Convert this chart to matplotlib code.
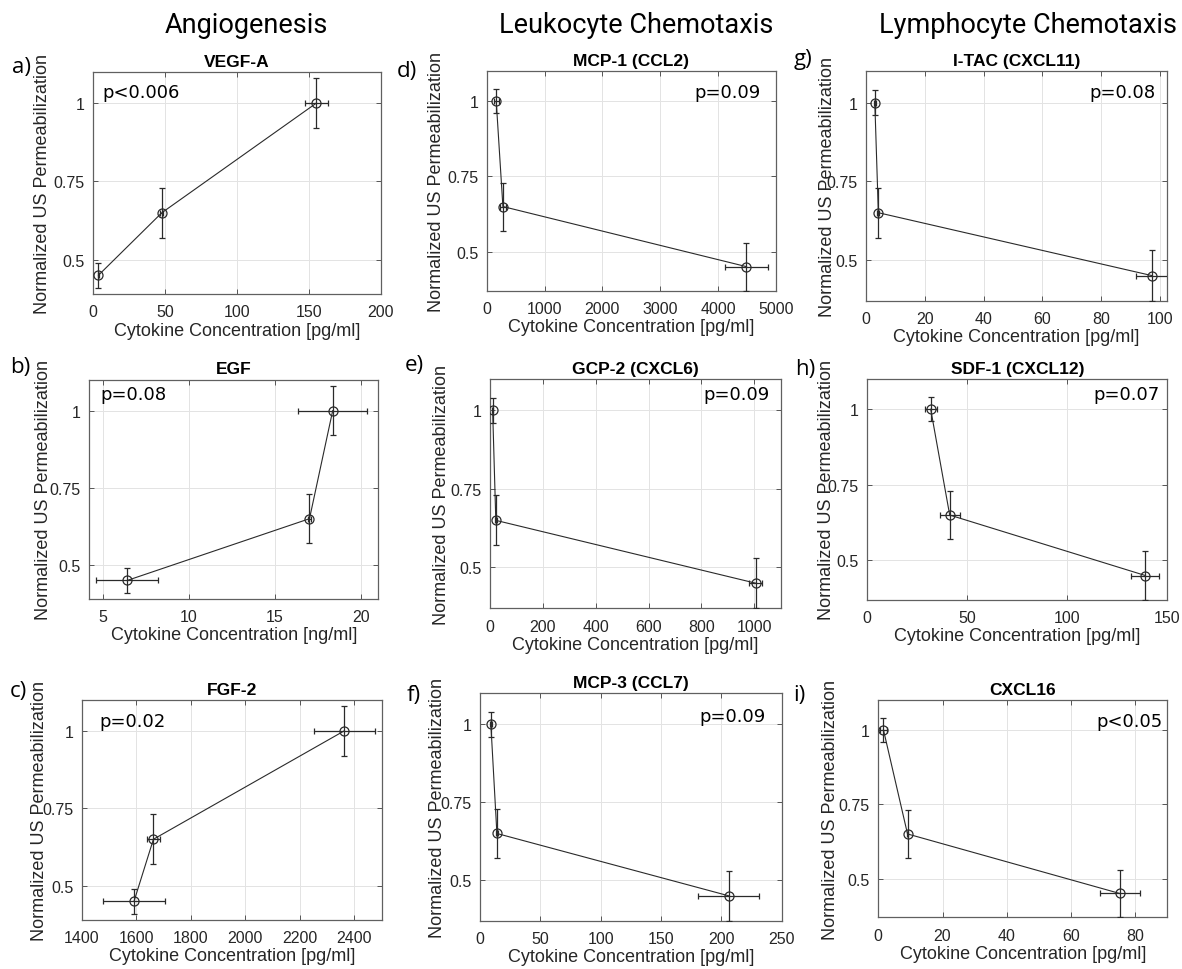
import numpy as np
import matplotlib
matplotlib.use("Agg")
import matplotlib.pyplot as plt

plt.rcParams['font.family'] = ['Liberation Sans', 'DejaVu Sans']

# normalized US permeabilization, ordered by rising concentration
perm_angio = [0.45, 0.65, 1.0]
perm_angio_err = [0.04, 0.08, 0.08]
perm_chemo = [1.0, 0.65, 0.45]
perm_chemo_err = [0.04, 0.08, 0.08]

column_titles = ['Angiogenesis', 'Leukocyte Chemotaxis', 'Lymphocyte Chemotaxis']
panel_letters = ['a)', 'b)', 'c)', 'd)', 'e)', 'f)', 'g)', 'h)', 'i)']
cytokines = ['VEGF-A', 'EGF', 'FGF-2',
             'MCP-1 (CCL2)', 'GCP-2 (CXCL6)', 'MCP-3 (CCL7)',
             'I-TAC (CXCL11)', 'SDF-1 (CXCL12)', 'CXCL16']
p_values = ['p<0.006', 'p=0.08', 'p=0.02',
            'p=0.09', 'p=0.09', 'p=0.09',
            'p=0.08', 'p=0.07', 'p<0.05']
units = ['pg/ml', 'ng/ml', 'pg/ml',
         'pg/ml', 'pg/ml', 'pg/ml',
         'pg/ml', 'pg/ml', 'pg/ml']

# cytokine concentrations and their errors
conc_vegf = [4, 48, 155]
conc_vegf_err = [0.5, 1, 8]
conc_egf = [6.4, 17.0, 18.35]
conc_egf_err = [1.8, 0.1, 2.0]
conc_fgf2 = [1592, 1663, 2362]
conc_fgf2_err = [114, 25, 112]
conc_mcp1 = [165, 280, 4490]
conc_mcp1_err = [40, 50, 375]
conc_gcp2 = [10, 22, 1005]
conc_gcp2_err = [3, 3, 24]
conc_mcp3 = [9, 14, 206]
conc_mcp3_err = [1, 1, 25]
conc_itac = [3.0, 4.2, 97.2]
conc_itac_err = [0.3, 0.3, 5.4]
conc_sdf1 = [31.7, 41.2, 139]
conc_sdf1_err = [3, 5, 7]
conc_cxcl16 = [1.6, 9.1, 75.2]
conc_cxcl16_err = [1, 0.3, 6.2]

concentrations = [conc_vegf, conc_egf, conc_fgf2, conc_mcp1, conc_gcp2,
                  conc_mcp3, conc_itac, conc_sdf1, conc_cxcl16]
conc_errors = [conc_vegf_err, conc_egf_err, conc_fgf2_err, conc_mcp1_err,
               conc_gcp2_err, conc_mcp3_err, conc_itac_err, conc_sdf1_err,
               conc_cxcl16_err]

x_limits = [(0, 200), (4.2, 21), (1400, 2500),
            (0, 5000), (0, 1100), (0, 250),
            (0, 102.5), (0, 150), (0, 90)]
x_ticks = [np.arange(0, 201, 50), [5, 10, 15, 20], np.arange(1400, 2401, 200),
           np.arange(0, 5001, 1000), np.arange(0, 1001, 200), np.arange(0, 251, 50),
           np.arange(0, 101, 20), np.arange(0, 151, 50), np.arange(0, 81, 20)]

# layout in pixels: (left, top, right, bottom)
W, H = 1182, 970
boxes = [(92.7, 73, 381, 295), (89.3, 380.7, 378.3, 600), (81.7, 701, 381.7, 920.7),
         (486.7, 72.3, 776, 291.7), (490, 380, 780.7, 609.3), (480, 694.3, 781.7, 921.7),
         (866, 72.3, 1167.3, 301.7), (867.3, 380, 1167.3, 600.7), (878.3, 701, 1167.3, 918.3)]
letter_pos = [(21.5, 67), (20, 367), (18, 691), (407, 71), (414, 366), (413.5, 695),
              (803.5, 60), (805, 370), (799.5, 695)]
ylabel_offset = [50, 46, 42, 50, 48, 43, 39, 41, 48]
p_pos = [(0.035, 0.909, 'left'), (0.037, 0.935, 'left'), (0.059, 0.906, 'left'),
         (0.947, 0.907, 'right'), (0.961, 0.935, 'right'), (0.948, 0.902, 'right'),
         (0.962, 0.908, 'right'), (0.976, 0.932, 'right'), (0.984, 0.905, 'right')]
header_x = [246, 636, 1028]

fig = plt.figure(figsize=(W / 100, H / 100), dpi=100)

for k, txt in enumerate(column_titles):
    fig.text(header_x[k] / W, 1 - 33 / H, txt, ha='center', va='baseline',
             fontsize=19.5, family='Roboto', color='black')

line_col = '#2a2a2a'
for i in range(9):
    l, t, r, b = boxes[i]
    ax = fig.add_axes([l / W, 1 - b / H, (r - l) / W, (b - t) / H])
    if i < 3:
        perm, perm_err = perm_angio, perm_angio_err
    else:
        perm, perm_err = perm_chemo, perm_chemo_err
    ax.errorbar(concentrations[i], perm, xerr=conc_errors[i], yerr=perm_err,
                fmt='-o', color=line_col, ecolor=line_col, lw=0.8, elinewidth=0.9,
                capsize=2.2, capthick=0.9, markersize=6.5, mfc='none', mec=line_col,
                mew=0.9, zorder=3)
    ax.set_xlim(x_limits[i])
    ax.set_ylim(0.39 if i < 3 else 0.37, 1.1)
    ax.set_xticks(x_ticks[i])
    ax.set_yticks([0.5, 0.75, 1.0])
    ax.set_yticklabels(['0.5', '0.75', '1'])
    ax.grid(True, color='#e3e3e3', lw=0.7, zorder=0)
    ax.tick_params(direction='in', top=True, right=True, length=3.5, width=0.7,
                   colors='#555555', labelcolor='#262626', labelsize=11.5)
    ax.tick_params(axis='x', pad=7.5)
    ax.tick_params(axis='y', pad=6)
    for s in ax.spines.values():
        s.set_color('#606060')
        s.set_linewidth(0.9)
    ax.set_title(cytokines[i], fontsize=12.5, fontweight='bold', pad=4.5, color='black')
    ax.set_xlabel('Cytokine Concentration [%s]' % units[i], fontsize=13,
                  color='#262626', labelpad=1.5)
    ax.set_ylabel('Normalized US Permeabilization', fontsize=13, color='#262626')
    ax.yaxis.label.set_verticalalignment('center')
    ax.yaxis.set_label_coords(-ylabel_offset[i] / (r - l), 0.5)
    px, py, ha = p_pos[i]
    ax.text(px, py, p_values[i], transform=ax.transAxes, ha=ha, va='center',
            fontsize=13, family='DejaVu Sans', color='black')
    lx, ly = letter_pos[i]
    fig.text(lx / W, 1 - ly / H, panel_letters[i], ha='center', va='center',
             fontsize=16, family='Open Sans', color='black')

fig.savefig('out.png', dpi=100)
